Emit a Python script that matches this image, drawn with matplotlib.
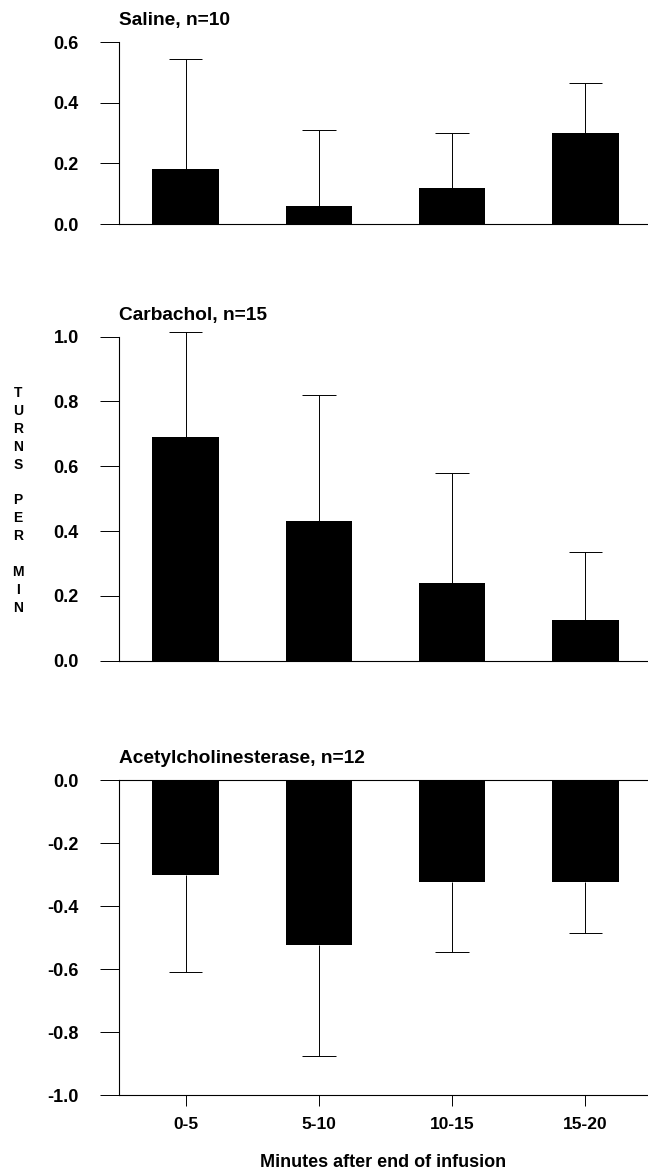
import numpy as np
import matplotlib.pyplot as plt

plt.rcParams['font.family'] = ['Liberation Sans', 'DejaVu Sans']
plt.rcParams['font.weight'] = 'bold'
plt.rcParams['font.size'] = 11
plt.rcParams['axes.unicode_minus'] = False

intervals = ['0-5', '5-10', '10-15', '15-20']

# mean turns per min and SEM (one-sided bars in the figure)
saline_mean = [0.18, 0.06, 0.12, 0.30]
saline_sem = [0.365, 0.25, 0.18, 0.165]

carbachol_mean = [0.69, 0.43, 0.24, 0.125]
carbachol_sem = [0.325, 0.39, 0.34, 0.21]

ache_mean = [-0.30, -0.525, -0.325, -0.325]
ache_sem = [0.31, 0.35, 0.22, 0.16]

titles = ['Saline, n=10', 'Carbachol, n=15', 'Acetylcholinesterase, n=12']
yticks = [[0.0, 0.2, 0.4, 0.6],
          [0.0, 0.2, 0.4, 0.6, 0.8, 1.0],
          [-1.0, -0.8, -0.6, -0.4, -0.2, 0.0]]

fig = plt.figure(figsize=(6.48, 11.71), dpi=100)

rects = [[0.1836, 0.8087, 0.8164, 0.1554],
         [0.1836, 0.4358, 0.8164, 0.2767],
         [0.1836, 0.0649, 0.8164, 0.2690]]

panels = [(saline_mean, saline_sem), (carbachol_mean, carbachol_sem), (ache_mean, ache_sem)]
x = np.arange(len(intervals))
bar_w = 0.5

for i, (mean, sem) in enumerate(panels):
    ax = fig.add_axes(rects[i])
    mean = np.array(mean)
    sem = np.array(sem)
    ax.bar(x, mean, width=bar_w, color='black', zorder=2)
    # error bar only on the outer side of each bar
    tip = mean + np.sign(mean) * sem
    ax.vlines(x, mean, tip, color='black', lw=0.7, zorder=1, clip_on=False)
    ax.hlines(tip, x - bar_w / 4, x + bar_w / 4, color='black', lw=0.7, zorder=1, clip_on=False)
    ax.set_xlim(-0.5, 3.47)
    ax.set_ylim(yticks[i][0], yticks[i][-1])
    ax.set_yticks(yticks[i])
    ax.set_yticklabels([f'{t:.1f}' for t in yticks[i]], fontsize=13)
    ax.tick_params(axis='y', direction='out', length=14, width=0.7, pad=15)
    for s in ax.spines.values():
        s.set_linewidth(0.8)
    ax.spines['right'].set_visible(False)
    if i < 2:
        ax.spines['top'].set_visible(False)
        ax.tick_params(axis='x', bottom=False, labelbottom=False)
    else:
        ax.set_xticks(x)
        ax.set_xticklabels(intervals, fontsize=12.5)
        ax.tick_params(axis='x', direction='out', length=8, width=0.7, pad=8)
        ax.set_xlabel('Minutes after end of infusion', labelpad=16, fontsize=13, fontweight='bold')
    ax.set_title(titles[i], loc='left', pad=12, fontsize=13.8, fontweight='bold')

fig.text(0.028, 0.5726, '\n'.join('TURNS PER MIN'), ha='center', va='center',
         fontsize=10, fontweight='bold', linespacing=1.35)

fig.savefig('out.png', dpi=100)
